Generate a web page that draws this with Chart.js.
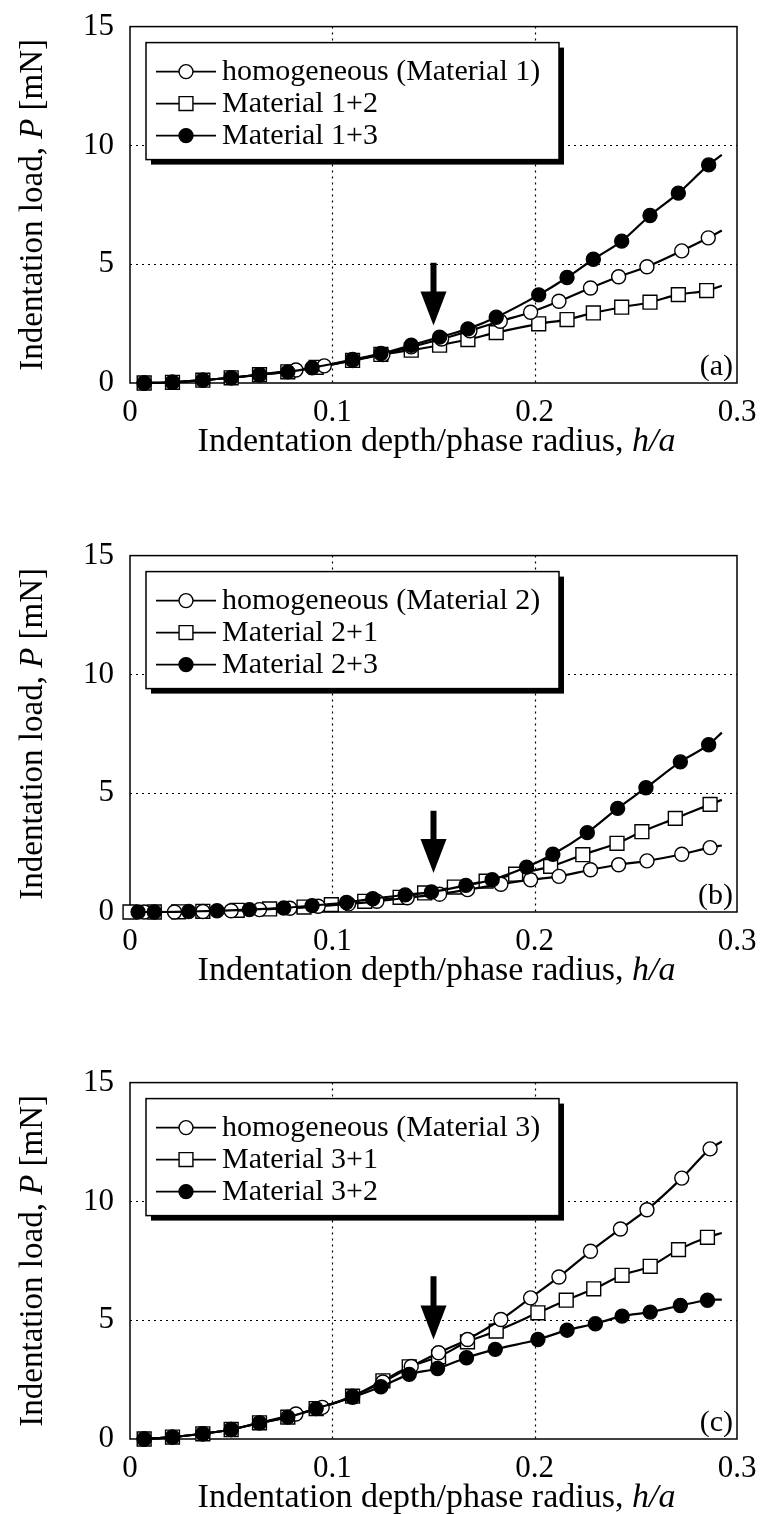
<!DOCTYPE html>
<html>
<head>
<meta charset="utf-8">
<script src="https://cdn.jsdelivr.net/npm/chart.js@4.4.0/dist/chart.umd.min.js"></script>
<style>
  body { margin: 0; background: #fff; width: 762px; height: 1514px; position: relative; overflow: hidden; }
  .panel { position: absolute; left: 0; width: 762px; height: 458px; }
</style>
</head>
<body>
<div class="panel" style="top:0"><canvas id="chart-a"></canvas></div>
<div class="panel" style="top:529px"><canvas id="chart-b"></canvas></div>
<div class="panel" style="top:1056px"><canvas id="chart-c"></canvas></div>
<script>
// axis ticks
const xTicks = [0, 0.1, 0.2, 0.3];
const yTicks = [0, 5, 10, 15];

// (a) base material 1
const homA_x = [0.007, 0.021, 0.036, 0.05, 0.064, 0.082, 0.096, 0.110, 0.125, 0.139, 0.154, 0.168, 0.183, 0.198, 0.212, 0.2276, 0.2415, 0.2555, 0.2727, 0.2858, 0.2925];
const homA_y = [0, 0.03, 0.12, 0.22, 0.35, 0.55, 0.72, 0.95, 1.2, 1.52, 1.85, 2.2, 2.6, 2.98, 3.44, 4.0, 4.47, 4.89, 5.56, 6.11, 6.42];
const m12_x = [0.007, 0.021, 0.036, 0.05, 0.064, 0.078, 0.092, 0.110, 0.124, 0.139, 0.153, 0.167, 0.181, 0.202, 0.216, 0.229, 0.243, 0.257, 0.271, 0.285, 0.2925];
const m12_y = [0, 0.03, 0.12, 0.22, 0.35, 0.47, 0.66, 0.95, 1.2, 1.38, 1.59, 1.83, 2.12, 2.49, 2.67, 2.95, 3.19, 3.4, 3.72, 3.89, 4.09];
const m13_x = [0.007, 0.021, 0.036, 0.05, 0.064, 0.078, 0.090, 0.110, 0.124, 0.139, 0.153, 0.167, 0.181, 0.202, 0.216, 0.229, 0.243, 0.257, 0.271, 0.286, 0.2925];
const m13_y = [0, 0.03, 0.12, 0.22, 0.35, 0.47, 0.64, 0.99, 1.24, 1.59, 1.93, 2.28, 2.77, 3.71, 4.44, 5.21, 5.97, 7.05, 7.99, 9.18, 9.6];

// (b) base material 2
const homB_x = [0.007, 0.022, 0.036, 0.05, 0.064, 0.079, 0.093, 0.108, 0.122, 0.137, 0.153, 0.1668, 0.1833, 0.198, 0.212, 0.2276, 0.2415, 0.2555, 0.2727, 0.2867, 0.2925];
const homB_y = [0, 0, 0.02, 0.05, 0.1, 0.16, 0.24, 0.34, 0.45, 0.6, 0.75, 0.94, 1.17, 1.36, 1.5, 1.78, 1.99, 2.15, 2.43, 2.71, 2.8];
const m21_x = [0.0, 0.012, 0.024, 0.036, 0.053, 0.069, 0.086, 0.0995, 0.116, 0.1335, 0.1456, 0.1603, 0.176, 0.1906, 0.2079, 0.2238, 0.2407, 0.253, 0.2695, 0.2867, 0.2925];
const m21_y = [0, 0, 0.01, 0.03, 0.07, 0.13, 0.21, 0.31, 0.45, 0.62, 0.8, 1.05, 1.3, 1.59, 1.92, 2.41, 2.89, 3.38, 3.94, 4.53, 4.72];
const m23_x = [0.004, 0.012, 0.029, 0.043, 0.059, 0.076, 0.090, 0.107, 0.120, 0.136, 0.149, 0.166, 0.179, 0.196, 0.209, 0.226, 0.241, 0.255, 0.272, 0.286, 0.2925];
const m23_y = [0, 0, 0.02, 0.05, 0.1, 0.17, 0.27, 0.4, 0.56, 0.72, 0.84, 1.12, 1.36, 1.89, 2.43, 3.34, 4.36, 5.23, 6.32, 7.04, 7.55];

// (c) base material 3
const homC_x = [0.007, 0.021, 0.036, 0.05, 0.064, 0.082, 0.095, 0.110, 0.125, 0.139, 0.1525, 0.1668, 0.1833, 0.198, 0.212, 0.2276, 0.2424, 0.2555, 0.2727, 0.2867, 0.2925];
const homC_y = [0, 0.08, 0.22, 0.4, 0.68, 1.05, 1.33, 1.8, 2.4, 3.05, 3.63, 4.19, 5.03, 5.94, 6.82, 7.9, 8.84, 9.65, 10.98, 12.21, 12.52];
const m31_x = [0.007, 0.021, 0.036, 0.05, 0.064, 0.078, 0.092, 0.110, 0.125, 0.138, 0.1525, 0.1668, 0.181, 0.2016, 0.2156, 0.2292, 0.2432, 0.2571, 0.2711, 0.2854, 0.2925];
const m31_y = [0, 0.08, 0.22, 0.4, 0.68, 0.92, 1.28, 1.8, 2.45, 3.04, 3.46, 4.09, 4.54, 5.31, 5.84, 6.32, 6.89, 7.27, 7.97, 8.49, 8.67];
const m32_x = [0.007, 0.021, 0.036, 0.05, 0.064, 0.078, 0.092, 0.110, 0.124, 0.138, 0.152, 0.1663, 0.1805, 0.2016, 0.216, 0.23, 0.2432, 0.2571, 0.272, 0.2854, 0.2925];
const m32_y = [0, 0.08, 0.22, 0.4, 0.68, 0.92, 1.28, 1.76, 2.2, 2.72, 2.97, 3.42, 3.77, 4.19, 4.58, 4.85, 5.17, 5.34, 5.62, 5.84, 5.87];

// arrow marking h/a = 0.15: [x, P at tail, P at tip]
const arrowA = [0.15, 5.06, 2.42];
const arrowB = [0.15, 4.26, 1.64];
const arrowC = [0.15, 6.85, 4.19];

const SERIF = '"Liberation Serif", "Times New Roman", serif';

const MARKERS = {
  open: { pointStyle: 'circle', radius: 7, fill: '#fff' },
  square: { pointStyle: 'rect', radius: 9.8, fill: '#fff' },
  solid: { pointStyle: 'circle', radius: 7, fill: '#000' }
};

function series(label, xs, ys, kind, order) {
  const m = MARKERS[kind];
  const last = xs.length - 1;
  return {
    label,
    kind,
    data: xs.map((x, i) => ({ x, y: ys[i] })),
    borderColor: '#000',
    borderWidth: 2.2,
    cubicInterpolationMode: 'monotone',
    pointStyle: m.pointStyle,
    pointBackgroundColor: m.fill,
    pointBorderColor: '#000',
    pointBorderWidth: 1.4,
    // the curve runs a little past the last marker
    pointRadius: ctx => ctx.dataIndex === last ? 0 : m.radius,
    clip: false,
    order
  };
}

function textRun(ctx, parts, x, y, size) {
  // parts: [[text, italic], ...] drawn centered on x
  const widths = parts.map(p => {
    ctx.font = (p[1] ? 'italic ' : '') + size + 'px ' + SERIF;
    return ctx.measureText(p[0]).width;
  });
  let cx = x - widths.reduce((a, b) => a + b, 0) / 2;
  parts.forEach((p, i) => {
    ctx.font = (p[1] ? 'italic ' : '') + size + 'px ' + SERIF;
    ctx.fillText(p[0], cx, y);
    cx += widths[i];
  });
}

const framePlugin = {
  id: 'frameGrid',
  beforeDatasetsDraw(chart) {
    const { ctx, chartArea: a, scales } = chart;
    ctx.save();
    ctx.strokeStyle = '#000';
    ctx.lineWidth = 1.2;
    ctx.setLineDash([2, 4]);
    xTicks.slice(1, -1).forEach(v => {
      const px = Math.round(scales.x.getPixelForValue(v)) + 0.5;
      ctx.beginPath(); ctx.moveTo(px, a.top); ctx.lineTo(px, a.bottom); ctx.stroke();
    });
    yTicks.slice(1, -1).forEach(v => {
      const py = Math.round(scales.y.getPixelForValue(v)) + 0.5;
      ctx.beginPath(); ctx.moveTo(a.left, py); ctx.lineTo(a.right, py); ctx.stroke();
    });
    ctx.setLineDash([]);
    ctx.lineWidth = 1.5;
    ctx.strokeRect(a.left, a.top, a.right - a.left, a.bottom - a.top);
    ctx.restore();
  }
};

const decorPlugin = {
  id: 'decor',
  afterDatasetsDraw(chart, args, opts) {
    const { ctx, chartArea: a, scales } = chart;
    ctx.save();
    ctx.fillStyle = '#000';

    // arrow
    const ax = scales.x.getPixelForValue(opts.arrow[0]);
    const aTop = scales.y.getPixelForValue(opts.arrow[1]);
    const aTip = scales.y.getPixelForValue(opts.arrow[2]);
    const head = 34;
    ctx.fillRect(ax - 3, aTop, 6, aTip - aTop - head + 2);
    ctx.beginPath();
    ctx.moveTo(ax - 13, aTip - head);
    ctx.lineTo(ax + 13, aTip - head);
    ctx.lineTo(ax, aTip);
    ctx.closePath();
    ctx.fill();

    // legend box with drop shadow
    const lx = a.left + 16, ly = a.top + 16, lw = 413, lh = 117;
    ctx.fillRect(lx + 5, ly + 5, lw, lh);
    ctx.fillStyle = '#fff';
    ctx.fillRect(lx, ly, lw, lh);
    ctx.strokeStyle = '#000';
    ctx.lineWidth = 1.5;
    ctx.strokeRect(lx, ly, lw, lh);
    chart.data.datasets.forEach((ds, i) => {
      const cy = ly + 29 + i * 32;
      ctx.strokeStyle = '#000';
      ctx.lineWidth = 1.6;
      ctx.beginPath(); ctx.moveTo(lx + 10, cy); ctx.lineTo(lx + 70, cy); ctx.stroke();
      const m = MARKERS[ds.kind];
      ctx.fillStyle = m.fill;
      ctx.lineWidth = 1.4;
      Chart.helpers.drawPoint(ctx, { pointStyle: m.pointStyle, radius: m.radius, borderWidth: 1.4, rotation: 0 }, lx + 40, cy);
      ctx.fillStyle = '#000';
      ctx.font = '30px ' + SERIF;
      ctx.textBaseline = 'middle';
      ctx.textAlign = 'left';
      ctx.fillText(ds.label, lx + 76, cy + 1);
    });

    // panel tag
    ctx.fillStyle = '#000';
    ctx.font = '30px ' + SERIF;
    ctx.textAlign = 'right';
    ctx.textBaseline = 'alphabetic';
    ctx.fillText(opts.tag, a.right - 4, a.bottom - 8);

    // axis titles
    ctx.textAlign = 'left';
    ctx.textBaseline = 'middle';
    textRun(ctx, [['Indentation depth/phase radius, ', false], ['h/a', true]], (a.left + a.right) / 2 + 3, a.bottom + 59, 34);
    ctx.translate(33, (a.top + a.bottom) / 2);
    ctx.rotate(-Math.PI / 2);
    textRun(ctx, [['Indentation load, ', false], ['P', true], [' [mN]', false]], 0, 0, 33);
    ctx.restore();
  }
};

function buildPanel(id, datasets, tag, arrow) {
  return new Chart(document.getElementById(id).getContext('2d'), {
    type: 'scatter',
    data: { datasets },
    plugins: [framePlugin, decorPlugin],
    options: {
      responsive: true,
      maintainAspectRatio: false,
      animation: false,
      layout: { padding: { left: 0, top: 24, right: 25, bottom: 0 } },
      datasets: { scatter: { showLine: true } },
      plugins: {
        legend: { display: false },
        tooltip: { enabled: false },
        decor: { tag, arrow }
      },
      scales: {
        x: {
          type: 'linear', min: 0, max: 0.3,
          afterBuildTicks: s => { s.ticks = xTicks.map(v => ({ value: v })); },
          afterFit: s => { s.height = 75; },
          grid: { display: false },
          border: { display: false },
          ticks: {
            color: '#000', padding: 3, maxRotation: 0,
            font: { family: SERIF, size: 31 },
            callback: v => String(Number(v.toFixed(1)))
          }
        },
        y: {
          type: 'linear', min: 0, max: 15,
          afterBuildTicks: s => { s.ticks = yTicks.map(v => ({ value: v })); },
          afterFit: s => { s.width = 130; },
          grid: { display: false },
          border: { display: false },
          ticks: {
            color: '#000', padding: 8,
            font: { family: SERIF, size: 31 }
          }
        }
      }
    }
  });
}

buildPanel('chart-a', [
  series('homogeneous (Material 1)', homA_x, homA_y, 'open', 1),
  series('Material 1+2', m12_x, m12_y, 'square', 2),
  series('Material 1+3', m13_x, m13_y, 'solid', 0)
], '(a)', arrowA);

buildPanel('chart-b', [
  series('homogeneous (Material 2)', homB_x, homB_y, 'open', 1),
  series('Material 2+1', m21_x, m21_y, 'square', 2),
  series('Material 2+3', m23_x, m23_y, 'solid', 0)
], '(b)', arrowB);

buildPanel('chart-c', [
  series('homogeneous (Material 3)', homC_x, homC_y, 'open', 1),
  series('Material 3+1', m31_x, m31_y, 'square', 2),
  series('Material 3+2', m32_x, m32_y, 'solid', 0)
], '(c)', arrowC);
</script>
</body>
</html>
